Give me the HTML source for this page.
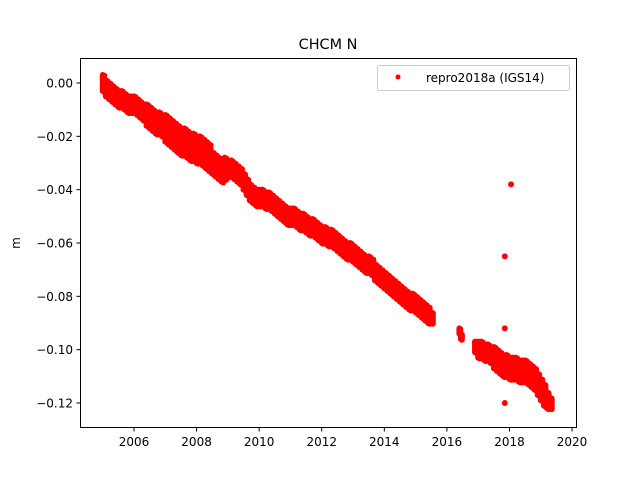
<!DOCTYPE html>
<html><head><meta charset="utf-8"><style>
body{margin:0;background:#fff}
svg text{font-family:"DejaVu Sans","Liberation Sans",sans-serif;fill:#000}
</style></head><body>
<svg id="chart" width="640" height="480" xmlns="http://www.w3.org/2000/svg">
<rect width="640" height="480" fill="#fff"/>
<text x="328" y="49" font-size="14.4" text-anchor="middle">CHCM N</text>
<text transform="translate(20,243) rotate(-90)" font-size="12" text-anchor="middle">m</text>
<g id="marks"></g>
<g id="ticks"></g>
<rect x="80.5" y="58.5" width="496" height="369" fill="none" stroke="#000" stroke-width="1"/>
<g>
<rect x="377.5" y="65.5" width="192" height="25" rx="2" fill="#fff" stroke="#ccc"/>
<circle cx="398" cy="77" r="2.5" fill="#ff0000"/>
<text x="426" y="82" font-size="12">repro2018a (IGS14)</text>
</g>
</svg>
<script>
const segStarts=[2005.0,2016.4,2016.9];
const segStep=[0.1,0.05,0.1];
const segValues=[
[0.000,-0.002,-0.003,-0.004,-0.005,-0.006,-0.006,-0.007,-0.008,-0.008,
-0.008,-0.009,-0.010,-0.011,-0.012,-0.013,-0.014,-0.015,-0.015,-0.016,
-0.017,-0.018,-0.019,-0.020,-0.021,-0.022,-0.022,-0.023,-0.024,-0.024,
-0.025,-0.025,-0.026,-0.027,-0.028,-0.030,-0.031,-0.032,-0.033,-0.032,
-0.032,-0.032,-0.033,-0.034,-0.035,-0.037,-0.039,-0.041,-0.042,-0.043,
-0.043,-0.043,-0.044,-0.044,-0.045,-0.046,-0.047,-0.048,-0.049,-0.050,
-0.050,-0.050,-0.051,-0.052,-0.052,-0.053,-0.054,-0.054,-0.055,-0.056,
-0.057,-0.057,-0.058,-0.058,-0.059,-0.060,-0.061,-0.062,-0.063,-0.063,
-0.064,-0.065,-0.066,-0.067,-0.068,-0.068,-0.069,-0.071,-0.072,-0.073,
-0.074,-0.075,-0.076,-0.077,-0.078,-0.079,-0.080,-0.081,-0.082,-0.082,
-0.083,-0.084,-0.085,-0.086,-0.087,-0.088],
[-0.093,-0.095],
[-0.099,
-0.100,-0.100,-0.101,-0.101,-0.102,-0.103,-0.104,-0.105,-0.106,-0.106,
-0.107,-0.107,-0.107,-0.108,-0.108,-0.108,-0.109,-0.110,-0.111,-0.113,
-0.115,-0.117,-0.119,-0.120]
];
const segSpread=[
[0.003,0.003,0.003,0.003,0.003,0.003,0.003,0.003,0.003,0.003,
0.003,0.003,0.003,0.003,0.004,0.004,0.004,0.004,0.004,0.004,
0.005,0.005,0.005,0.005,0.005,0.005,0.005,0.005,0.005,0.005,
0.005,0.005,0.005,0.005,0.005,0.004,0.004,0.004,0.004,0.004,
0.003,0.003,0.003,0.003,0.003,0.003,0.003,0.003,0.003,0.003,
0.003,0.003,0.003,0.003,0.003,0.003,0.003,0.003,0.003,0.003,
0.003,0.003,0.003,0.003,0.003,0.003,0.003,0.003,0.003,0.003,
0.003,0.003,0.003,0.003,0.003,0.003,0.003,0.003,0.003,0.003,
0.003,0.003,0.003,0.003,0.003,0.003,0.003,0.003,0.003,0.003,
0.003,0.003,0.003,0.003,0.003,0.003,0.003,0.003,0.003,0.003,
0.003,0.003,0.003,0.003,0.003,0.002],
[0.001,0.001],
[0.002,
0.003,0.003,0.003,0.003,0.003,0.004,0.004,0.004,0.004,0.004,
0.004,0.004,0.004,0.004,0.004,0.004,0.004,0.004,0.004,0.004,
0.004,0.004,0.003,0.002]
];
const outlierYears=[2018.05,2017.85,2017.85,2017.85];
const outlierValues=[-0.038,-0.065,-0.092,-0.120];
const xTicks=[2006,2008,2010,2012,2014,2016,2018,2020];
const yTicks=[0.00,-0.02,-0.04,-0.06,-0.08,-0.10,-0.12];
const yTickLabels=["0.00","\u22120.02","\u22120.04","\u22120.06","\u22120.08","\u22120.10","\u22120.12"];

const xs=v=>134+(v-2006)*31.29;
const ys=v=>83+(-v)/0.02*53.33;
const NS="http://www.w3.org/2000/svg";
const marks=document.getElementById('marks');
function dot(x,y){
  const c=document.createElementNS(NS,'circle');
  c.setAttribute('cx',xs(x).toFixed(2));c.setAttribute('cy',ys(y).toFixed(2));
  c.setAttribute('r','3');c.setAttribute('fill','#ff0000');
  
  
  marks.appendChild(c);
}
segValues.forEach((vals,s)=>{
  vals.forEach((v,i)=>{
    const yr=segStarts[s]+i*segStep[s];
    const sp=segSpread[s][i];
    [-1,-0.75,-0.5,-0.25,0,0.25,0.5,0.75,1].forEach(k=>{dot(yr,v+k*sp);dot(yr+segStep[s]/2,v+k*sp-0.0003);});
  });
});
outlierYears.forEach((yr,i)=>dot(yr,outlierValues[i]));
const tg=document.getElementById('ticks');
xTicks.forEach(t=>{
  const l=document.createElementNS(NS,'line');
  l.setAttribute('x1',xs(t));l.setAttribute('x2',xs(t));l.setAttribute('y1',427.5);l.setAttribute('y2',431.5);
  l.setAttribute('stroke','#000');
  
  
  tg.appendChild(l);
  const tx=document.createElementNS(NS,'text');
  tx.setAttribute('x',xs(t));tx.setAttribute('y',446);tx.setAttribute('font-size','12');tx.setAttribute('text-anchor','middle');
  tx.textContent=t;
  
  
  tg.appendChild(tx);
});
yTicks.forEach((t,i)=>{
  const l=document.createElementNS(NS,'line');
  l.setAttribute('x1',76.5);l.setAttribute('x2',80.5);l.setAttribute('y1',ys(t));l.setAttribute('y2',ys(t));
  l.setAttribute('stroke','#000');
  
  
  tg.appendChild(l);
  const tx=document.createElementNS(NS,'text');
  tx.setAttribute('x',73);tx.setAttribute('y',ys(t)+4.5);tx.setAttribute('font-size','12');tx.setAttribute('text-anchor','end');
  tx.textContent=yTickLabels[i];
  
  
  tg.appendChild(tx);
});
</script>
</body></html>
